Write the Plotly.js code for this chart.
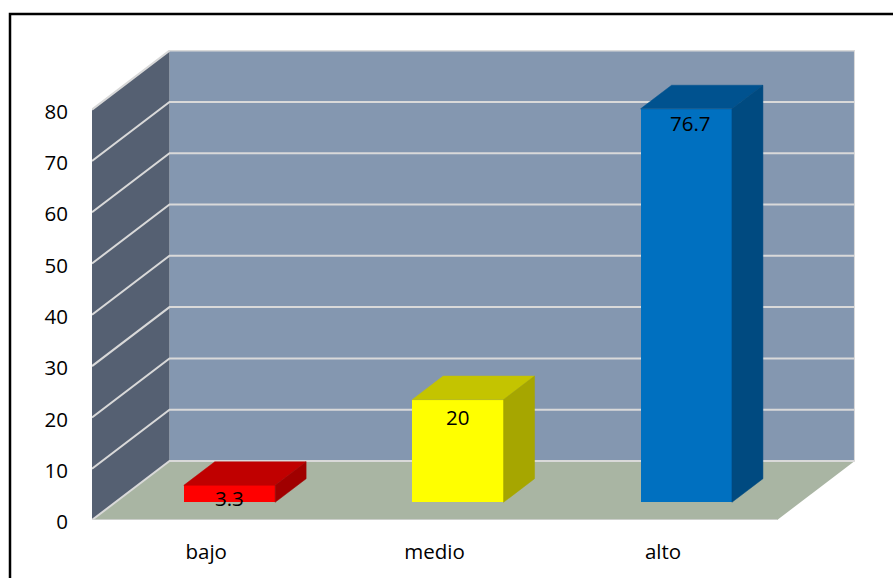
<!DOCTYPE html>
<html>
<head>
<meta charset="utf-8">
<script src="https://cdn.plot.ly/plotly-3.0.1.min.js"></script>
<style>html,body{margin:0;padding:0;background:#fff}</style>
</head>
<body>
<div id="chart" style="width:893px;height:578px"></div>
<script>
var categories = ['bajo', 'medio', 'alto'];
var values = [3.3, 20, 76.7];
var yTicks = [0, 10, 20, 30, 40, 50, 60, 70, 80];
var frontColors = ['#ff0000', '#ffff00', '#0070c0'];
var topColors = ['#c00000', '#c4c400', '#00528f'];
var sideColors = ['#a00000', '#a6a600', '#004a80'];

var pxPerCat = 228.4;
var dX = 77.5 / pxPerCat, dY = 11.5, near = 0.3, far = 0.7, barW = 0.4;
var xL = -0.5, xR = 2.5, yMax = 80;
var positions = categories.map(function (_, i) { return i; });
var labelShiftX = [0, 0, 4], labelShiftY = [3, -1, 2];

function face(color, xs, ys) {
  return {type: 'scatter', mode: 'lines', x: xs, y: ys, fill: 'toself', fillcolor: color,
    line: {width: 0.5, color: color}, hoverinfo: 'skip', showlegend: false};
}
var traces = [];
var fx = positions.map(function (p) { return p + dX * near; });
var base = dY * near, depthX = dX * (far - near), depthY = dY * (far - near);
traces.push({type: 'bar', x: fx, y: values, base: values.map(function () { return base; }),
  width: barW, marker: {color: frontColors, line: {width: 0}}, hoverinfo: 'skip', showlegend: false});
values.forEach(function (v, i) {
  var l = fx[i] - barW / 2, r = fx[i] + barW / 2, t = base + v;
  traces.push(face(topColors[i], [l, r, r + depthX, l + depthX, l], [t, t, t + depthY, t + depthY, t]));
  traces.push(face(sideColors[i], [r, r + depthX, r + depthX, r, r], [t, t + depthY, base + depthY, base, t]));
});

var edge = '#d9d9d9';
function poly(pts) {
  return pts.map(function (p, i) { return (i ? 'L' : 'M') + p[0] + ',' + p[1]; }).join(' ');
}
var shapes = [
  {type: 'path', layer: 'below', xref: 'x', yref: 'y', line: {width: 0}, fillcolor: '#8497b0',
    path: poly([[xL + dX, dY], [xR + dX, dY], [xR + dX, yMax + dY], [xL + dX, yMax + dY]]) + ' Z'},
  {type: 'path', layer: 'below', xref: 'x', yref: 'y', line: {width: 0}, fillcolor: '#556072',
    path: poly([[xL, 0], [xL + dX, dY], [xL + dX, yMax + dY], [xL, yMax]]) + ' Z'},
  {type: 'path', layer: 'below', xref: 'x', yref: 'y', line: {width: 0}, fillcolor: '#a9b5a3',
    path: poly([[xL, 0], [xR, 0], [xR + dX, dY], [xL + dX, dY]]) + ' Z'}
];
yTicks.forEach(function (v) {
  shapes.push({type: 'path', layer: 'below', xref: 'x', yref: 'y', line: {width: 2, color: edge},
    path: poly([[xL, v], [xL + dX, v + dY], [xR + dX, v + dY]])});
});
shapes.push({type: 'path', layer: 'below', xref: 'x', yref: 'y', line: {width: 1.5, color: edge},
  path: poly([[xL, 0], [xR, 0]])});
shapes.push({type: 'path', layer: 'below', xref: 'x', yref: 'y', line: {width: 1.5, color: edge},
  path: poly([[xR + dX, dY], [xR + dX, yMax + dY]])});
// outer frame, open to the right and bottom
shapes.push({type: 'path', xref: 'paper', yref: 'paper', line: {width: 2.5, color: '#000'},
  path: poly([[(10 - 92) / 763, -0.2], [(10 - 92) / 763, 1 + 36 / 470], [(900 - 92) / 763, 1 + 36 / 470]])});

var font = '"Open Sans", sans-serif';
var annotations = values.map(function (v, i) {
  return {x: fx[i], y: base + v, xref: 'x', yref: 'y', text: String(v), showarrow: false,
    xanchor: 'center', yanchor: 'top', xshift: labelShiftX[i], yshift: labelShiftY[i],
    font: {family: font, size: 20.5, color: '#000'}};
});

var layout = {
  width: 893, height: 578,
  margin: {l: 92, r: 38, t: 50, b: 58, pad: 0},
  paper_bgcolor: '#fff', plot_bgcolor: 'rgba(0,0,0,0)',
  showlegend: false, bargap: 0,
  font: {family: font, size: 20.5, color: '#000'},
  xaxis: {type: 'linear', range: [xL, xL + 763 / pxPerCat], tickmode: 'array', tickvals: positions,
    ticktext: categories, showgrid: false, zeroline: false, showline: false, ticks: '',
    ticklabelstandoff: 17, fixedrange: true},
  yaxis: {type: 'linear', range: [0, 470 / 5.13], tickmode: 'array', tickvals: yTicks,
    showgrid: false, zeroline: false, showline: false, ticks: '', ticklabelstandoff: 23,
    ticklabelshift: 2, fixedrange: true},
  shapes: shapes,
  annotations: annotations
};
Plotly.newPlot('chart', traces, layout, {displayModeBar: false, staticPlot: true});
</script>
</body>
</html>
